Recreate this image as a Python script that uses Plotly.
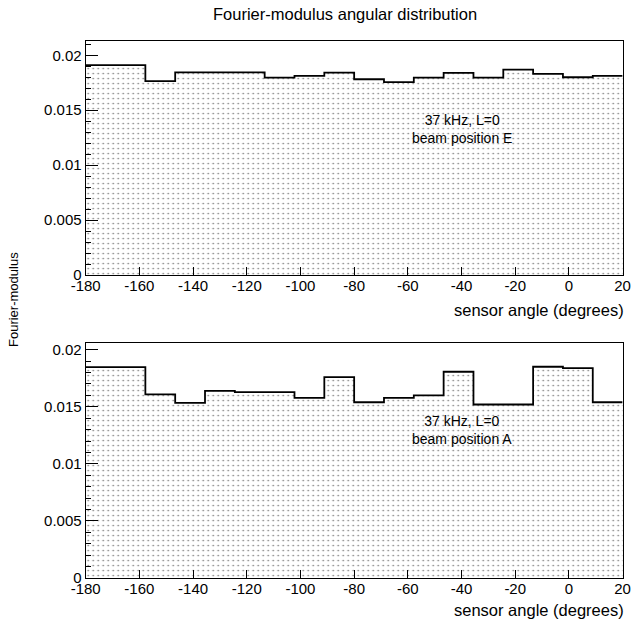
import numpy as np
import plotly.graph_objects as go

# ---- data ----
x_min, x_max, n_bins = -180.0, 20.0, 18
values_E = [0.0191, 0.0191, 0.01764, 0.01845, 0.01845, 0.01845, 0.01797, 0.01812, 0.01842,
            0.01782, 0.01755, 0.01797, 0.01839, 0.01797, 0.0187, 0.0183, 0.018, 0.01812]
values_A = [0.01847, 0.01847, 0.01608, 0.01535, 0.0164, 0.01628, 0.01628, 0.01579, 0.0176,
            0.0154, 0.01579, 0.016, 0.01807, 0.0152, 0.0152, 0.01851, 0.01839, 0.0154]
y_max_E = 0.0213
y_max_A = 0.02059
x_ticks = [-180, -160, -140, -120, -100, -80, -60, -40, -20, 0, 20]
x_tick_text = ["-180", "-160", "-140", "-120", "-100", "-80", "-60", "-40", "-20", "0", "20"]
y_ticks = [0, 0.005, 0.01, 0.015, 0.02]
y_tick_text = ["0", "0.005", "0.01", "0.015", "0.02"]
title = "Fourier-modulus angular distribution"
x_title = "sensor angle (degrees)"
y_title = "Fourier-modulus"
labels = ["37 kHz, L=0<br>beam position E", "37 kHz, L=0<br>beam position A"]

edges = np.linspace(x_min, x_max, n_bins + 1)
centers = 0.5 * (edges[:-1] + edges[1:])
width = edges[1] - edges[0]

W, H = 633, 622
FONT = "Liberation Sans, Arial, sans-serif"

def py(p):  # pixel y (from top) to paper fraction
    return 1 - p / H

def px(p):
    return p / W

fig = go.Figure()

panels = [
    (values_E, "x", "y"),
    (values_A, "x2", "y2"),
]

for vals, xa, ya in panels:
    fig.add_trace(go.Bar(
        x=centers, y=vals, width=width, xaxis=xa, yaxis=ya,
        marker=dict(color="white", line=dict(width=0),
                    pattern=dict(shape=".", fgcolor="black", bgcolor="white",
                                 size=5, solidity=0.09)),
        showlegend=False, hoverinfo="skip",
    ))
    fig.add_trace(go.Scatter(
        x=list(edges), y=list(vals) + [vals[-1]], xaxis=xa, yaxis=ya,
        mode="lines", line=dict(color="black", width=1.8, shape="hv"),
        showlegend=False, hoverinfo="skip",
    ))

x_dom = [px(85.7), px(622.6)]
axis_common = dict(showline=True, linecolor="black", linewidth=1.2, mirror=True,
                   ticks="inside", tickcolor="black", showgrid=False, zeroline=False,
                   automargin=False,
                   tickfont=dict(family=FONT, size=15, color="black"))

xa_kw = dict(range=[x_min, x_max], tickvals=x_ticks, ticktext=x_tick_text, ticklen=8,
             ticklabelstandoff=-3, domain=x_dom, **axis_common)
ya_kw = dict(tickvals=y_ticks, ticktext=y_tick_text, ticklen=12,
             minor=dict(dtick=0.001, ticklen=5, ticks="inside", tickcolor="black"),
             **axis_common)

fig.update_layout(
    width=W, height=H, autosize=False,
    margin=dict(l=0, r=0, t=0, b=0, autoexpand=False),
    paper_bgcolor="white", plot_bgcolor="white",
    bargap=0,
    xaxis=dict(anchor="y", **xa_kw),
    yaxis=dict(anchor="x", range=[0, y_max_E], domain=[py(275), py(41)], **ya_kw),
    xaxis2=dict(anchor="y2", **xa_kw),
    yaxis2=dict(anchor="x2", range=[0, y_max_A], domain=[py(578), py(343)], **ya_kw),
)

ann = [
    dict(text=title, x=px(345), y=py(14), xref="paper", yref="paper",
         showarrow=False, font=dict(family=FONT, size=16.5, color="black"),
         xanchor="center", yanchor="middle"),
    dict(text=y_title, x=px(13), y=py(300), xref="paper", yref="paper", textangle=-90,
         showarrow=False, font=dict(family=FONT, size=13, color="black"),
         xanchor="center", yanchor="middle"),
    dict(text=x_title, x=px(626), y=py(310), xref="paper", yref="paper",
         showarrow=False, font=dict(family=FONT, size=16.5, color="black"),
         xanchor="right", yanchor="middle"),
    dict(text=x_title, x=px(626), y=py(610), xref="paper", yref="paper",
         showarrow=False, font=dict(family=FONT, size=16.5, color="black"),
         xanchor="right", yanchor="middle"),
    dict(text=labels[0], x=-40, y=0.0133, xref="x", yref="y",
         showarrow=False, font=dict(family=FONT, size=14, color="black"),
         xanchor="center", yanchor="middle"),
    dict(text=labels[1], x=-40, y=0.0130, xref="x2", yref="y2",
         showarrow=False, font=dict(family=FONT, size=14, color="black"),
         xanchor="center", yanchor="middle"),
]
fig.update_layout(annotations=ann)

fig.write_html("out.html", config={"displayModeBar": False},
               post_script="document.body.style.margin='0';document.body.style.overflow='hidden';")
